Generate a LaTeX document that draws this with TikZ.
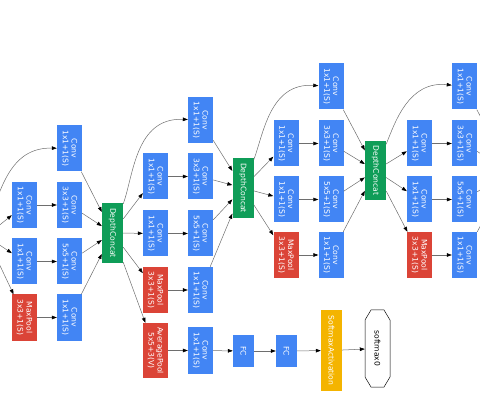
\documentclass[tikz,border=0pt]{standalone}
\usepackage{fontspec}
\newfontfamily\dejavu{DejaVu Sans}
\usetikzlibrary{arrows.meta}
\definecolor{convblue}{HTML}{4285F4}
\definecolor{poolred}{HTML}{DB4437}
\definecolor{catgreen}{HTML}{0F9D58}
\definecolor{softyellow}{HTML}{F4B400}
\definecolor{edgegray}{HTML}{6E6E6E}
\tikzset{
  blockbox/.style={rotate=-90, text=white, align=center, inner sep=1pt,
    font=\dejavu\fontsize{7.6}{8.8}\selectfont, minimum width=46pt, minimum height=25pt},
  conv/.style={blockbox, fill=convblue},
  pool/.style={blockbox, fill=poolred},
  concat/.style={blockbox, fill=catgreen, minimum width=60pt, minimum height=21pt},
  fc/.style={blockbox, fill=convblue, minimum width=32pt, minimum height=21pt},
  arr/.style={draw=edgegray, line width=0.5pt, -{Triangle[length=5pt,width=3.6pt,color=black]}}
}
\begin{document}
\begin{tikzpicture}[x=1pt,y=1pt]
\useasboundingbox (0,0) rectangle (480,-401);
\clip (0,0) rectangle (480,-401);
\coordinate (IN) at (-14,-236);
\coordinate (DC4) at (510,-172);
\node[conv] (A1) at (24.5,-205) {Conv\\1x1+1(S)};
\node[conv] (A2) at (24.5,-261.5) {Conv\\1x1+1(S)};
\node[pool] (A3) at (24.5,-317.5) {MaxPool\\3x3+1(S)};
\node[conv] (B1) at (69.5,-148.5) {Conv\\1x1+1(S)};
\node[conv] (B2) at (69.5,-205) {Conv\\3x3+1(S)};
\node[conv] (B3) at (69.5,-261.5) {Conv\\5x5+1(S)};
\node[conv] (B4) at (69.5,-317.5) {Conv\\1x1+1(S)};
\node[concat] (DC1) at (112.5,-233) {DepthConcat};
\node[conv] (C1) at (155.5,-176.5) {Conv\\1x1+1(S)};
\node[conv] (C2) at (155.5,-233.5) {Conv\\1x1+1(S)};
\node[pool] (C3) at (155.5,-290) {MaxPool\\3x3+1(S)};
\node[pool, minimum width=55pt] (C4) at (155.5,-350.5) {AveragePool\\5x5+3(V)};
\node[conv] (D1) at (200.5,-120) {Conv\\1x1+1(S)};
\node[conv] (D2) at (200.5,-176.5) {Conv\\3x3+1(S)};
\node[conv] (D3) at (200.5,-233.5) {Conv\\5x5+1(S)};
\node[conv] (D4) at (200.5,-290) {Conv\\1x1+1(S)};
\node[conv] (D5) at (200.5,-350.5) {Conv\\1x1+1(S)};
\node[fc] (FC1) at (243.5,-351) {FC};
\node[fc] (FC2) at (286.5,-351) {FC};
\node[blockbox, fill=softyellow, minimum width=81pt, minimum height=21pt] (SM) at (331.5,-350.5) {SoftmaxActivation};
\node[blockbox, text=black, minimum width=77pt, minimum height=25pt] (S0) at (377.5,-348.5) {softmax0};
\draw[line width=0.5pt] (365,-320) -- (371,-310) -- (384,-310) -- (390,-320) -- (390,-377) -- (384,-387) -- (371,-387) -- (365,-377) -- cycle;
\node[concat] (DC2) at (243,-188) {DepthConcat};
\node[conv] (E1) at (286,-143.5) {Conv\\1x1+1(S)};
\node[conv] (E2) at (286,-199.5) {Conv\\1x1+1(S)};
\node[pool] (E3) at (286,-255) {MaxPool\\3x3+1(S)};
\node[conv] (F1) at (331,-86.5) {Conv\\1x1+1(S)};
\node[conv] (F2) at (331,-143.5) {Conv\\3x3+1(S)};
\node[conv] (F3) at (331,-199.5) {Conv\\5x5+1(S)};
\node[conv] (F4) at (331,-255) {Conv\\1x1+1(S)};
\node[concat, minimum width=59pt] (DC3) at (375.5,-170.5) {DepthConcat};
\node[conv] (G1) at (419.5,-143.5) {Conv\\1x1+1(S)};
\node[conv] (G2) at (419.5,-199.5) {Conv\\1x1+1(S)};
\node[pool] (G3) at (419.5,-255) {MaxPool\\3x3+1(S)};
\node[conv] (H1) at (464.5,-86.5) {Conv\\1x1+1(S)};
\node[conv] (H2) at (464.5,-143.5) {Conv\\3x3+1(S)};
\node[conv] (H3) at (464.5,-199.5) {Conv\\5x5+1(S)};
\node[conv] (H4) at (464.5,-255) {Conv\\1x1+1(S)};
\draw[arr] (IN) -- (A1);
\draw[arr] (IN) -- (A2);
\draw[arr] (IN) -- (A3);
\draw[arr] (IN) to[out=75,in=205] (B1);
\draw[arr] (A1) -- (B2);
\draw[arr] (A2) -- (B3);
\draw[arr] (A3) -- (B4);
\draw[arr] (B1) -- (DC1);
\draw[arr] (B2) -- (DC1);
\draw[arr] (B3) -- (DC1);
\draw[arr] (B4) -- (DC1);
\draw[arr] (DC1) -- (C1);
\draw[arr] (DC1) -- (C2);
\draw[arr] (DC1) -- (C3);
\draw[arr] (DC1) -- (C4);
\draw[arr] (DC1) to[out=80,in=200] (D1);
\draw[arr] (C1) -- (D2);
\draw[arr] (C2) -- (D3);
\draw[arr] (C3) -- (D4);
\draw[arr] (C4) -- (D5);
\draw[arr] (D5) -- (FC1);
\draw[arr] (FC1) -- (FC2);
\draw[arr] (FC2) -- (SM);
\draw[arr] (SM) -- (S0);
\draw[arr] (D1) -- (DC2);
\draw[arr] (D2) -- (DC2);
\draw[arr] (D3) -- (DC2);
\draw[arr] (D4) -- (DC2);
\draw[arr] (DC2) -- (E1);
\draw[arr] (DC2) -- (E2);
\draw[arr] (DC2) -- (E3);
\draw[arr] (DC2) to[out=80,in=200] (F1);
\draw[arr] (E1) -- (F2);
\draw[arr] (E2) -- (F3);
\draw[arr] (E3) -- (F4);
\draw[arr] (F1) -- (DC3);
\draw[arr] (F2) -- (DC3);
\draw[arr] (F3) -- (DC3);
\draw[arr] (F4) -- (DC3);
\draw[arr] (DC3) -- (G1);
\draw[arr] (DC3) -- (G2);
\draw[arr] (DC3) -- (G3);
\draw[arr] (DC3) to[out=80,in=200] (H1);
\draw[arr] (G1) -- (H2);
\draw[arr] (G2) -- (H3);
\draw[arr] (G3) -- (H4);
\draw[arr] (H1) -- (DC4);
\draw[arr] (H2) -- (DC4);
\draw[arr] (H3) -- (DC4);
\draw[arr] (H4) -- (DC4);
\end{tikzpicture}
\end{document}
